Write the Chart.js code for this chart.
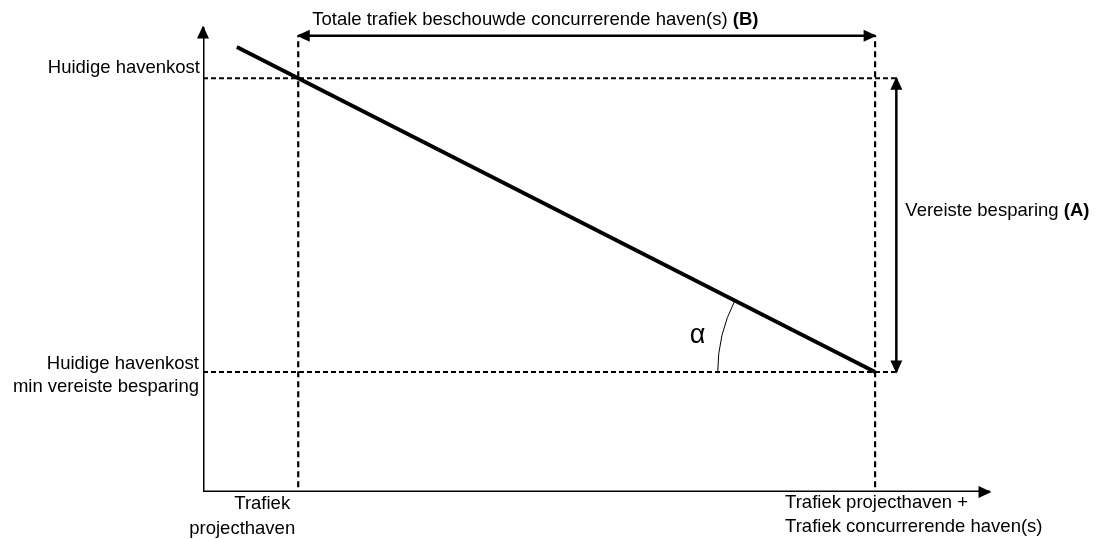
<!DOCTYPE html>
<html>
<head>
<meta charset="utf-8">
<script src="https://cdn.jsdelivr.net/npm/chart.js@4"></script>
<style>
  body { margin: 0; background: #fff; }
  #wrap { width: 1098px; height: 539px; position: relative; }
</style>
</head>
<body>
<div id="wrap"><canvas id="chart"></canvas></div>
<script>
// schematic values (x = trafiek, y = havenkost), both on a 0-100 scale
const trafficLevels = [12.1, 85.4];      // Trafiek projecthaven, + concurrerende haven(s)
const costLevels = [89.0, 25.8];         // Huidige havenkost, min vereiste besparing
const demandX = [4.3, 85.4];
const demandY = [95.7, 25.8];
const arrowBY = 98.1;                    // hoogte van pijl (B)
const arrowAX = 88.1;                    // positie van pijl (A)
const arcStartX = 65.4;                  // begin van hoekboog alpha
const dashBottom = 1.0;                  // verticale hulplijnen stoppen net boven de as

const costLabels = [['Huidige havenkost'], ['Huidige havenkost', 'min vereiste besparing']];
const trafficLabels = [['Trafiek', 'projecthaven'], ['Trafiek projecthaven +', 'Trafiek concurrerende haven(s)']];
const labelB = ['Totale trafiek beschouwde concurrerende haven(s) ', '(B)'];
const labelA = ['Vereiste besparing ', '(A)'];
const alphaLabel = 'α';

const FONT = '"Liberation Sans", Arial, sans-serif';

function seg(x1, y1, x2, y2) {
    return [{ x: x1, y: y1 }, { x: x2, y: y2 }];
}

const dashedH = { borderColor: '#000', borderWidth: 2, borderDash: [5, 3], pointRadius: 0, showLine: true };
const dashedV = { borderColor: '#000', borderWidth: 2.2, borderDash: [6, 4], pointRadius: 0, showLine: true };
const solid = { borderColor: '#000', borderWidth: 2.5, pointRadius: 0, showLine: true };

// pijlpunten tekenen aan begin/eind van datasets
const arrowPlugin = {
    id: 'arrows',
    afterDatasetsDraw(chart) {
        const ctx = chart.ctx;
        chart.data.datasets.forEach((ds, i) => {
            if (!ds.arrowStart && !ds.arrowEnd) return;
            const pts = chart.getDatasetMeta(i).data;
            const a = pts[0], b = pts[pts.length - 1];
            if (ds.arrowEnd) head(ctx, a, b);
            if (ds.arrowStart) head(ctx, b, a);
        });
        function head(ctx, from, to) {
            const ang = Math.atan2(to.y - from.y, to.x - from.x);
            const len = 13, half = 6;
            const tx = to.x + Math.cos(ang) * 1.5, ty = to.y + Math.sin(ang) * 1.5;
            ctx.save();
            ctx.fillStyle = '#000';
            ctx.beginPath();
            ctx.moveTo(tx, ty);
            ctx.lineTo(tx - len * Math.cos(ang) - half * Math.sin(ang), ty - len * Math.sin(ang) + half * Math.cos(ang));
            ctx.lineTo(tx - len * Math.cos(ang) + half * Math.sin(ang), ty - len * Math.sin(ang) - half * Math.cos(ang));
            ctx.closePath();
            ctx.fill();
            ctx.restore();
        }
    }
};

// hoekboog en alle teksten
const annotationPlugin = {
    id: 'annotations',
    afterDraw(chart) {
        const ctx = chart.ctx;
        const xs = chart.scales.x, ys = chart.scales.y;
        ctx.save();

        // boog voor hoek alpha, gecentreerd op eindpunt van de lijn
        const cx = xs.getPixelForValue(demandX[1]);
        const cy = ys.getPixelForValue(demandY[1]);
        const r = cx - xs.getPixelForValue(arcStartX);
        let lineAng = Math.atan2(ys.getPixelForValue(demandY[0]) - cy, xs.getPixelForValue(demandX[0]) - cx);
        if (lineAng < Math.PI) lineAng += 2 * Math.PI;
        ctx.strokeStyle = '#000';
        ctx.lineWidth = 1;
        ctx.beginPath();
        ctx.arc(cx, cy, r, Math.PI, lineAng, false);
        ctx.stroke();

        ctx.fillStyle = '#000';
        ctx.textBaseline = 'middle';
        ctx.font = '27px ' + FONT;
        ctx.textAlign = 'left';
        ctx.fillText(alphaLabel, cx - r - 28, cy - 36);

        ctx.font = '18.5px ' + FONT;

        // y-as labels
        ctx.textAlign = 'right';
        const left = chart.chartArea.left;
        ctx.fillText(costLabels[0][0], left - 3, ys.getPixelForValue(costLevels[0]) - 10);
        const y2 = ys.getPixelForValue(costLevels[1]);
        ctx.fillText(costLabels[1][0], left - 4, y2 - 8);
        ctx.fillText(costLabels[1][1], left - 4, y2 + 15);

        // x-as labels
        const bottom = chart.chartArea.bottom;
        ctx.textAlign = 'center';
        const px1 = xs.getPixelForValue(trafficLevels[0]);
        ctx.fillText(trafficLabels[0][0], px1 - 36, bottom + 12);
        ctx.fillText(trafficLabels[0][1], px1 - 56, bottom + 37);
        ctx.textAlign = 'left';
        const px2 = xs.getPixelForValue(trafficLevels[1]);
        ctx.fillText(trafficLabels[1][0], px2 - 90, bottom + 11);
        ctx.fillText(trafficLabels[1][1], px2 - 90, bottom + 35);

        // label (B)
        const bx = xs.getPixelForValue(trafficLevels[0]) + 14;
        const by = ys.getPixelForValue(arrowBY) - 16;
        ctx.fillText(labelB[0], bx, by);
        let w = ctx.measureText(labelB[0]).width;
        ctx.font = 'bold 18.5px ' + FONT;
        ctx.fillText(labelB[1], bx + w, by);

        // label (A)
        ctx.font = '18.5px ' + FONT;
        const ax = xs.getPixelForValue(arrowAX) + 9;
        const ay = ys.getPixelForValue((costLevels[0] + costLevels[1]) / 2) - 14;
        ctx.fillText(labelA[0], ax, ay);
        w = ctx.measureText(labelA[0]).width;
        ctx.font = 'bold 18.5px ' + FONT;
        ctx.fillText(labelA[1], ax + w, ay);

        ctx.restore();
    }
};

new Chart(document.getElementById('chart').getContext('2d'), {
    type: 'scatter',
    data: {
        datasets: [
            // assen
            { ...solid, borderWidth: 3, data: seg(0, 0, 0, 100), arrowEnd: true },
            { ...solid, borderWidth: 3, data: seg(0, 0, 100, 0), arrowEnd: true },
            // hulplijnen
            { ...dashedH, data: seg(0, costLevels[0], arrowAX, costLevels[0]) },
            { ...dashedH, data: seg(0, costLevels[1], arrowAX, costLevels[1]) },
            { ...dashedV, data: seg(trafficLevels[0], dashBottom, trafficLevels[0], arrowBY) },
            { ...dashedV, data: seg(trafficLevels[1], dashBottom, trafficLevels[1], arrowBY) },
            // maatpijlen (B) en (A)
            { ...solid, data: seg(trafficLevels[0], arrowBY, trafficLevels[1], arrowBY), arrowStart: true, arrowEnd: true },
            { ...solid, data: seg(arrowAX, costLevels[0], arrowAX, costLevels[1]), arrowStart: true, arrowEnd: true },
            // kostenlijn
            { ...solid, borderWidth: 3.8, data: demandX.map((x, i) => ({ x: x, y: demandY[i] })) }
        ]
    },
    options: {
        responsive: true,
        maintainAspectRatio: false,
        animation: false,
        layout: { padding: { left: 203, right: 108, top: 27, bottom: 47 } },
        scales: {
            x: { type: 'linear', min: 0, max: 100, display: false },
            y: { type: 'linear', min: 0, max: 100, display: false }
        },
        plugins: { legend: { display: false }, tooltip: { enabled: false } },
        elements: { line: { borderCapStyle: 'butt' } }
    },
    plugins: [arrowPlugin, annotationPlugin]
});
</script>
</body>
</html>
